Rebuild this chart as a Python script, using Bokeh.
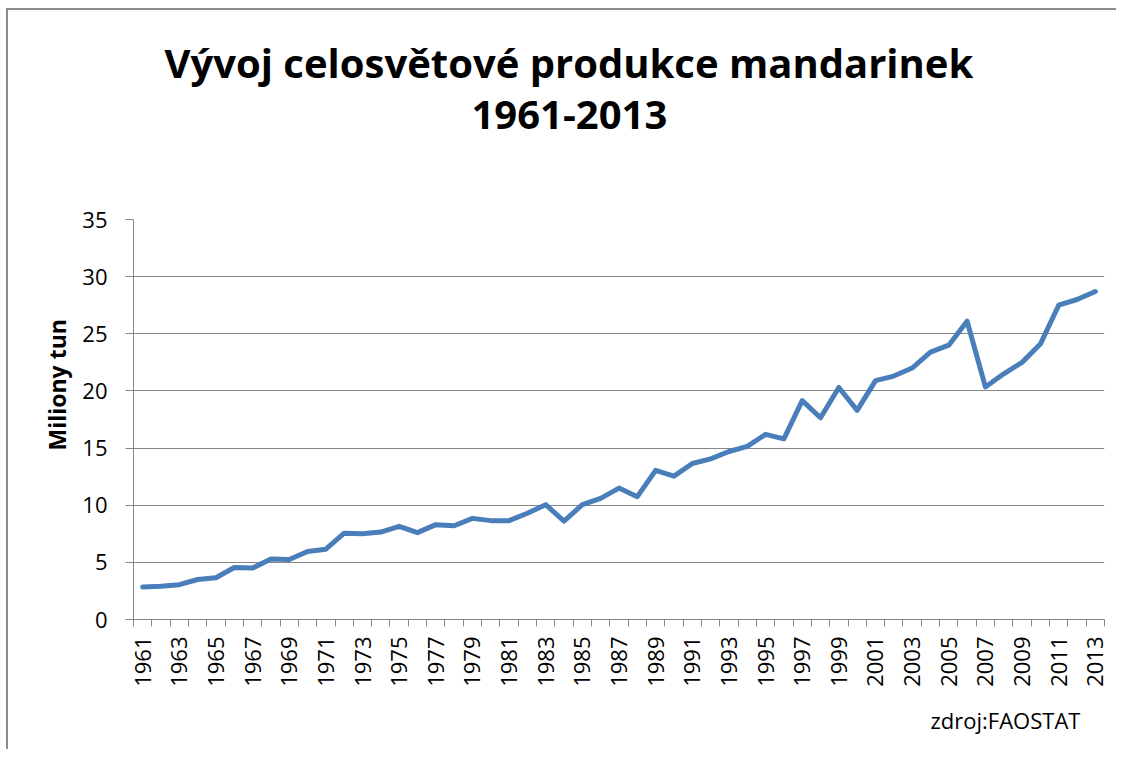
import math
from bokeh.plotting import figure
from bokeh.models import Range1d, FixedTicker, Title
from bokeh.embed import file_html
from bokeh.resources import INLINE

years = list(range(1961, 2014))
production = [2.85, 2.9, 3.05, 3.5, 3.65, 4.55, 4.5, 5.3, 5.25, 5.95,
              6.15, 7.55, 7.5, 7.65, 8.15, 7.6, 8.3, 8.2, 8.85, 8.65,
              8.65, 9.3, 10.05, 8.6, 10.05, 10.6, 11.5, 10.75, 13.05, 12.55,
              13.65, 14.05, 14.7, 15.15, 16.2, 15.8, 19.15, 17.65, 20.3, 18.3,
              20.9, 21.3, 22.0, 23.4, 24.0, 26.1, 20.35, 21.5, 22.5, 24.1,
              27.5, 28.0, 28.7]
labeled_years = [y for y in years if y % 2 == 1]
y_ticks = [0, 5, 10, 15, 20, 25, 30, 35]
title_lines = ["Vývoj celosvětové produkce mandarinek", "1961-2013"]
y_label = "Miliony tun"
source_note = "zdroj:FAOSTAT"

GRAY = "#868686"
FONT = "Open Sans"

p = figure(frame_width=971, frame_height=400,
           min_border_left=125, min_border_right=12,
           min_border_top=209, min_border_bottom=130,
           x_range=Range1d(years[0] - 0.5, years[-1] + 0.5),
           y_range=Range1d(0, 35),
           output_backend="svg", toolbar_location=None,
           background_fill_color="white", border_fill_color="white",
           styles={"margin-left": "6px", "margin-top": "8px",
                   "border-left": "2px solid #8c8c8c", "border-top": "2px solid #8c8c8c"})
p.outline_line_color = None

p.line(years, production, line_color="#4a7ebb", line_width=5,
       line_join="round", line_cap="round")

# x axis
xa = p.xaxis[0]
xa.ticker = FixedTicker(ticks=labeled_years,
                        minor_ticks=[y - 0.5 for y in years] + [years[-1] + 0.5])
xa.major_tick_out = 0
xa.major_tick_in = 0
xa.minor_tick_out = 7
xa.minor_tick_in = 0
xa.minor_tick_line_color = GRAY
xa.axis_line_color = GRAY
xa.major_label_orientation = math.pi / 2
xa.major_label_standoff = 10
xa.major_label_text_font = FONT
xa.major_label_text_font_size = "22px"
xa.major_label_text_color = "black"

# y axis
ya = p.yaxis[0]
ya.ticker = FixedTicker(ticks=y_ticks)
ya.major_tick_out = 8
ya.major_tick_in = 0
ya.minor_tick_out = 0
ya.minor_tick_in = 0
ya.major_tick_line_color = GRAY
ya.axis_line_color = GRAY
ya.major_label_standoff = 18
ya.major_label_text_font = FONT
ya.major_label_text_font_size = "22px"
ya.major_label_text_color = "black"

p.xgrid.visible = False
p.ygrid.grid_line_color = GRAY
p.ygrid.grid_line_width = 1

# titles (first added sits nearest to the frame); a blank spacer keeps the gap
p.add_layout(Title(text=" ", standoff=66, text_font=FONT, text_font_size="10px"), "above")
p.add_layout(Title(text=title_lines[1], align="left", offset=338, standoff=18,
                   text_font=FONT, text_font_style="bold", text_font_size="40px",
                   text_color="black"), "above")
p.add_layout(Title(text=title_lines[0], align="left", offset=31, standoff=0,
                   text_font=FONT, text_font_style="bold", text_font_size="40px",
                   text_color="black"), "above")
p.add_layout(Title(text=y_label, align="left", offset=169, standoff=14,
                   text_font=FONT, text_font_style="bold", text_font_size="23px",
                   text_color="black"), "left")
p.add_layout(Title(text=source_note, align="left", offset=797, standoff=26,
                   text_font=FONT, text_font_style="normal", text_font_size="22px",
                   text_color="black"), "below")

open("out.html", "w").write(file_html(p, INLINE))
